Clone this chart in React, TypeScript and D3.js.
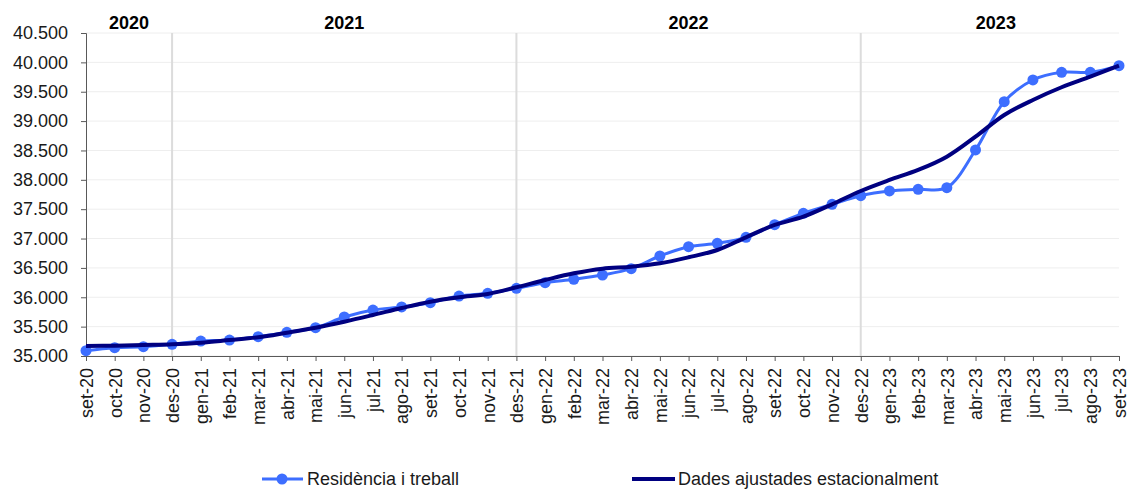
import { useRef, useEffect } from "react";
import * as d3 from "d3";

const months = [
  "set-20", "oct-20", "nov-20", "des-20",
  "gen-21", "feb-21", "mar-21", "abr-21", "mai-21", "jun-21", "jul-21", "ago-21", "set-21", "oct-21", "nov-21", "des-21",
  "gen-22", "feb-22", "mar-22", "abr-22", "mai-22", "jun-22", "jul-22", "ago-22", "set-22", "oct-22", "nov-22", "des-22",
  "gen-23", "feb-23", "mar-23", "abr-23", "mai-23", "jun-23", "jul-23", "ago-23", "set-23",
];

// Residència i treball (raw series)
const residencia = [
  35090, 35141, 35158, 35199,
  35255, 35272, 35329, 35403, 35482, 35664, 35783, 35835, 35908, 36020, 36068, 36153,
  36248, 36306, 36379, 36487, 36703, 36861, 36919, 37021, 37237, 37430, 37583, 37730,
  37810, 37839, 37866, 38508, 39331, 39700, 39831, 39831, 39944,
];

// Dades ajustades estacionalment
const ajustades = [
  35170, 35175, 35187, 35199,
  35227, 35272, 35318, 35397, 35482, 35584, 35698, 35817, 35925, 35999, 36056, 36170,
  36294, 36408, 36487, 36521, 36579, 36681, 36805, 37021, 37231, 37372, 37583, 37810,
  37997, 38168, 38394, 38735, 39104, 39360, 39576, 39757, 39944,
];

const yTicks = [35000, 35500, 36000, 36500, 37000, 37500, 38000, 38500, 39000, 39500, 40000, 40500];

const years = ["2020", "2021", "2022", "2023"];
const yearBreaks = ["des-20", "des-21", "des-22"];
const seriesNames = ["Residència i treball", "Dades ajustades estacionalment"];

export default function App() {
  const chartRef = useRef<HTMLDivElement>(null);

  useEffect(() => {
    if (!chartRef.current) return;
    d3.select(chartRef.current).selectAll("*").remove();

    const width = 1129;
    const height = 490;
    const margin = { top: 33, right: 10, bottom: 134, left: 86 };
    const font = "Liberation Sans, Arial, sans-serif";

    const svg = d3
      .select(chartRef.current)
      .append("svg")
      .attr("width", width)
      .attr("height", height)
      .style("position", "absolute")
      .style("left", "0px")
      .style("top", "0px")
      .style("background", "#fff");

    const x = d3
      .scalePoint<string>()
      .domain(months)
      .range([margin.left, width - margin.right]);

    const y = d3
      .scaleLinear()
      .domain([35000, 40500])
      .range([height - margin.bottom, margin.top]);

    // horizontal gridlines
    svg
      .append("g")
      .selectAll("line")
      .data(yTicks)
      .enter()
      .append("line")
      .attr("x1", margin.left)
      .attr("x2", width - margin.right)
      .attr("y1", (d) => y(d))
      .attr("y2", (d) => y(d))
      .attr("stroke", "#eeeeee")
      .attr("stroke-width", 1);

    // year separators
    svg
      .append("g")
      .selectAll("line")
      .data(yearBreaks)
      .enter()
      .append("line")
      .attr("x1", (d) => x(d)!)
      .attr("x2", (d) => x(d)!)
      .attr("y1", y(40500))
      .attr("y2", y(35000))
      .attr("stroke", "#dcdcdc")
      .attr("stroke-width", 2);

    // year labels, centred between separators
    const bounds = [months[0], ...yearBreaks, months[months.length - 1]];
    svg
      .append("g")
      .selectAll("text")
      .data(years)
      .enter()
      .append("text")
      .attr("x", (_, i) => (x(bounds[i])! + x(bounds[i + 1])!) / 2 + (i === 3 ? 6 : 0))
      .attr("y", 29)
      .attr("text-anchor", "middle")
      .attr("font-family", font)
      .attr("font-size", "18px")
      .attr("font-weight", "bold")
      .attr("fill", "#000")
      .text((d) => d);

    // Y axis
    const fmt = (v: number) => d3.format(",.0f")(v).replace(",", ".");
    const yAxis = svg
      .append("g")
      .attr("transform", `translate(${margin.left},0)`)
      .call(d3.axisLeft(y).tickValues(yTicks).tickSize(5).tickPadding(13).tickFormat((d) => fmt(d as number)));
    yAxis.select(".domain").attr("stroke", "#595959");
    yAxis.selectAll(".tick line").attr("stroke", "#595959");
    yAxis
      .selectAll("text")
      .attr("font-family", font)
      .attr("font-size", "18px")
      .attr("fill", "#1a1a1a");

    // X axis
    const xAxis = svg
      .append("g")
      .attr("transform", `translate(0,${height - margin.bottom})`)
      .call(d3.axisBottom(x).tickSize(5).tickSizeOuter(0));
    xAxis.select(".domain").attr("stroke", "#595959");
    xAxis.selectAll(".tick line").attr("stroke", "#595959");
    xAxis
      .selectAll("text")
      .attr("font-family", font)
      .attr("font-size", "18px")
      .attr("fill", "#1a1a1a")
      .attr("text-anchor", "end")
      .attr("transform", "rotate(-90)")
      .attr("x", -12)
      .attr("y", 0)
      .attr("dy", "0.35em");

    // raw series
    const line = d3
      .line<number>()
      .x((_, i) => x(months[i])!)
      .y((d) => y(d))
      .curve(d3.curveCatmullRom.alpha(0.5));

    svg
      .append("path")
      .datum(residencia)
      .attr("d", line)
      .attr("fill", "none")
      .attr("stroke", "#3d6eff")
      .attr("stroke-width", 3);

    svg
      .append("g")
      .selectAll("circle")
      .data(residencia)
      .enter()
      .append("circle")
      .attr("cx", (_, i) => x(months[i])!)
      .attr("cy", (d) => y(d))
      .attr("r", 5.5)
      .attr("fill", "#3d6eff");

    // seasonally adjusted series
    svg
      .append("path")
      .datum(ajustades)
      .attr("d", line)
      .attr("fill", "none")
      .attr("stroke", "#000080")
      .attr("stroke-width", 4);

    // Legend
    const legend = svg.append("g").attr("transform", "translate(0,479)");
    legend
      .append("line")
      .attr("x1", 262)
      .attr("x2", 303)
      .attr("stroke", "#3d6eff")
      .attr("stroke-width", 3);
    legend
      .append("circle")
      .attr("cx", 282)
      .attr("cy", 0)
      .attr("r", 5.5)
      .attr("fill", "#3d6eff");
    legend
      .append("text")
      .attr("x", 307)
      .attr("y", 6)
      .attr("font-family", font)
      .attr("font-size", "18px")
      .attr("fill", "#1a1a1a")
      .text(seriesNames[0]);

    legend
      .append("line")
      .attr("x1", 632)
      .attr("x2", 675)
      .attr("stroke", "#000080")
      .attr("stroke-width", 4);
    legend
      .append("text")
      .attr("x", 678)
      .attr("y", 6)
      .attr("font-family", font)
      .attr("font-size", "18px")
      .attr("fill", "#1a1a1a")
      .text(seriesNames[1]);
  }, []);

  return (
    <div>
      <div ref={chartRef}></div>
    </div>
  );
}
